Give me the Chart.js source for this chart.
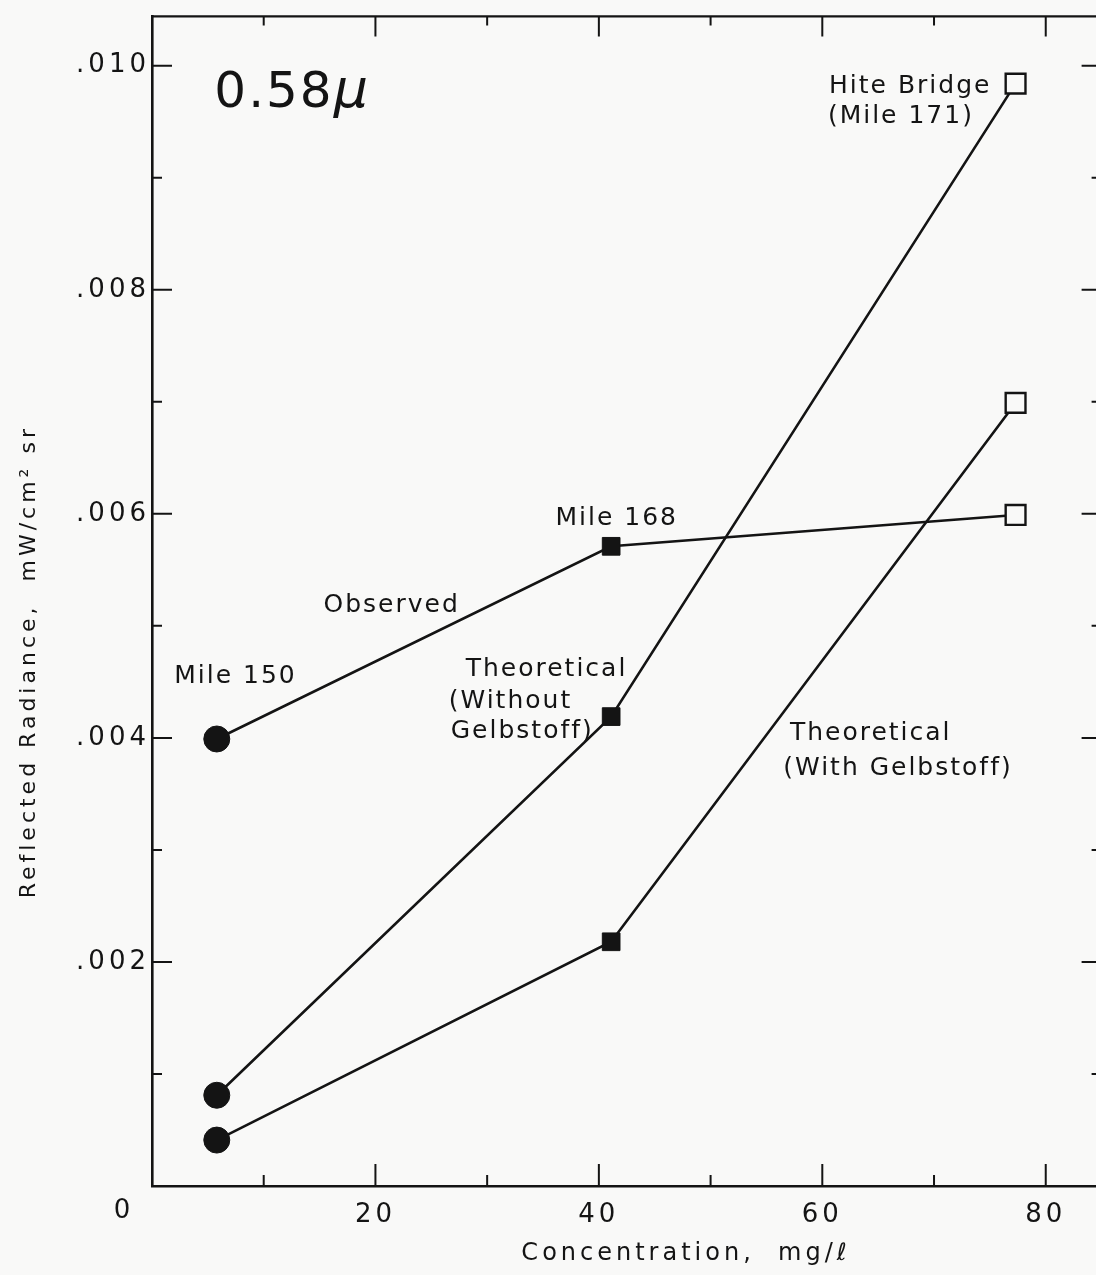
<!DOCTYPE html>
<html>
<head>
<meta charset="utf-8">
<title>Reflected radiance vs concentration</title>
<script src="https://cdn.jsdelivr.net/npm/chart.js@4.4.1/dist/chart.umd.min.js"></script>
<style>
  html, body { margin: 0; padding: 0; background: #f9f9f8; overflow: hidden; }
  #chart { position: absolute; left: 0; top: 0; }
</style>
</head>
<body>
<canvas id="chart" width="1118" height="1275"></canvas>
<script>
// values
const concentration = [5.8, 41.1, 77.3];
const observed      = [0.00399, 0.00571, 0.00599];
const theoryWithout = [0.00081, 0.00419, 0.00984];
const theoryWith    = [0.00041, 0.00218, 0.00699];

const xTicks = [0, 10, 20, 30, 40, 50, 60, 70, 80];
const yTicks = [0, 0.001, 0.002, 0.003, 0.004, 0.005, 0.006, 0.007, 0.008, 0.009, 0.010];

const ink = '#141414';
const paper = '#f9f9f8';
const font = '"DejaVu Sans", sans-serif';

// text written on the plot, placed in data units
const notes = [
  { text: 'Hite Bridge', x: 60.6, y: 0.009756, align: 'left' },
  { text: '(Mile 171)', x: 60.5, y: 0.009489, align: 'left' },
  { text: 'Mile 168', x: 41.6, y: 0.005898, align: 'center' },
  { text: 'Observed', x: 21.45, y: 0.005124, align: 'center' },
  { text: 'Mile 150', x: 7.47, y: 0.004493, align: 'center' },
  { text: 'Theoretical', x: 28.08, y: 0.004556, align: 'left' },
  { text: '(Without', x: 26.56, y: 0.004271, align: 'left' },
  { text: 'Gelbstoff)', x: 26.74, y: 0.003996, align: 'left' },
  { text: 'Theoretical', x: 57.1, y: 0.003978, align: 'left' },
  { text: '(With Gelbstoff)', x: 56.5, y: 0.003667, align: 'left' }
];

function points(ys) {
  return concentration.map((c, i) => ({ x: c, y: ys[i] }));
}

function series(label, ys) {
  return {
    label: label,
    data: points(ys),
    borderColor: ink,
    borderWidth: 2.6,
    tension: 0,
    pointStyle: ['circle', 'rect', 'rect'],
    pointRadius: [13, 12.5, 14],
    pointBackgroundColor: [ink, ink, paper],
    pointBorderColor: ink,
    pointBorderWidth: [1, 1, 2.4]
  };
}

const frame = {
  id: 'frame',
  beforeDraw(chart) {
    chart.ctx.letterSpacing = '4px';
  },
  afterDraw(chart) {
    const ctx = chart.ctx;
    const a = chart.chartArea;
    const xs = chart.scales.x, ys = chart.scales.y;
    ctx.save();
    ctx.strokeStyle = ink;
    ctx.fillStyle = ink;
    ctx.lineWidth = 2.4;
    ctx.beginPath();
    ctx.moveTo(a.left, a.top); ctx.lineTo(a.right, a.top); ctx.lineTo(a.right, a.bottom);
    ctx.stroke();

    // inward tick marks on all four sides
    ctx.lineWidth = 2;
    ctx.beginPath();
    xTicks.forEach(v => {
      if (v === 0) return;
      const px = xs.getPixelForValue(v);
      const len = v % 20 === 0 ? 22 : 11;
      ctx.moveTo(px, a.bottom); ctx.lineTo(px, a.bottom - len);
      ctx.moveTo(px, a.top); ctx.lineTo(px, a.top + len - 2);
    });
    yTicks.forEach(v => {
      if (v === 0) return;
      const py = ys.getPixelForValue(v);
      const len = Math.round(v * 1000) % 2 === 0 ? 20 : 10;
      ctx.moveTo(a.left, py); ctx.lineTo(a.left + len, py);
      ctx.moveTo(a.right, py); ctx.lineTo(a.right - len, py);
    });
    ctx.stroke();

    // origin label sits off the corner
    ctx.font = '26px ' + font;
    ctx.letterSpacing = '4px';
    ctx.textAlign = 'center';
    ctx.textBaseline = 'middle';
    ctx.fillText('0', xs.getPixelForValue(0) - 28, a.bottom + 25);

    // axis titles
    ctx.font = '24px ' + font;
    ctx.textBaseline = 'alphabetic';
    ctx.fillText('Concentration,  mg/\u2113', xs.getPixelForValue(47.8), a.bottom + 74);

    ctx.save();
    ctx.translate(35, ys.getPixelForValue(0.00468));
    ctx.rotate(-Math.PI / 2);
    ctx.font = '22px ' + font;
    ctx.letterSpacing = '4px';
    ctx.fillText('Reflected Radiance,  mW/cm\u00b2 sr', 0, 0);
    ctx.restore();

    // wavelength tag
    ctx.textAlign = 'left';
    ctx.font = '50px ' + font;
    ctx.letterSpacing = '2px';
    const tx = xs.getPixelForValue(5.58), ty = ys.getPixelForValue(0.009631);
    ctx.fillText('0.58', tx, ty);
    const w = ctx.measureText('0.58').width;
    ctx.font = 'italic 54px ' + font;
    ctx.fillText('\u03bc', tx + w, ty);

    // curve notes
    ctx.font = '25px ' + font;
    ctx.letterSpacing = '2px';
    notes.forEach(n => {
      ctx.textAlign = n.align;
      ctx.fillText(n.text, xs.getPixelForValue(n.x), ys.getPixelForValue(n.y));
    });
    ctx.restore();
  }
};

new Chart(document.getElementById('chart'), {
  type: 'line',
  data: {
    datasets: [
      series('Observed', observed),
      series('Theoretical (Without Gelbstoff)', theoryWithout),
      series('Theoretical (With Gelbstoff)', theoryWith)
    ]
  },
  options: {
    responsive: false,
    animation: false,
    devicePixelRatio: 1,
    layout: { padding: { top: 12, right: 8, left: 0, bottom: 0 } },
    plugins: {
      legend: { display: false },
      tooltip: { enabled: false }
    },
    scales: {
      x: {
        type: 'linear',
        min: 0,
        max: 85,
        grid: { display: false },
        border: { display: true, color: ink, width: 2.6 },
        afterBuildTicks: scale => { scale.ticks = xTicks.map(v => ({ value: v })); },
        afterFit: scale => { scale.height = 89; },
        ticks: {
          autoSkip: false,
          maxRotation: 0,
          padding: 6,
          color: ink,
          font: { family: font, size: 26 },
          callback: v => (v !== 0 && v % 20 === 0) ? String(v) : ''
        }
      },
      y: {
        type: 'linear',
        min: 0,
        max: 0.01044,
        grid: { display: false },
        border: { display: true, color: ink, width: 2.6 },
        afterBuildTicks: scale => { scale.ticks = yTicks.map(v => ({ value: v })); },
        afterFit: scale => { scale.width = 152; },
        ticks: {
          autoSkip: false,
          padding: -6,
          color: ink,
          font: { family: font, size: 26 },
          callback: v => {
            const k = Math.round(v * 1000);
            return (k !== 0 && k % 2 === 0) ? (k / 1000).toFixed(3).slice(1) : '';
          }
        }
      }
    }
  },
  plugins: [frame]
});
</script>
</body>
</html>
